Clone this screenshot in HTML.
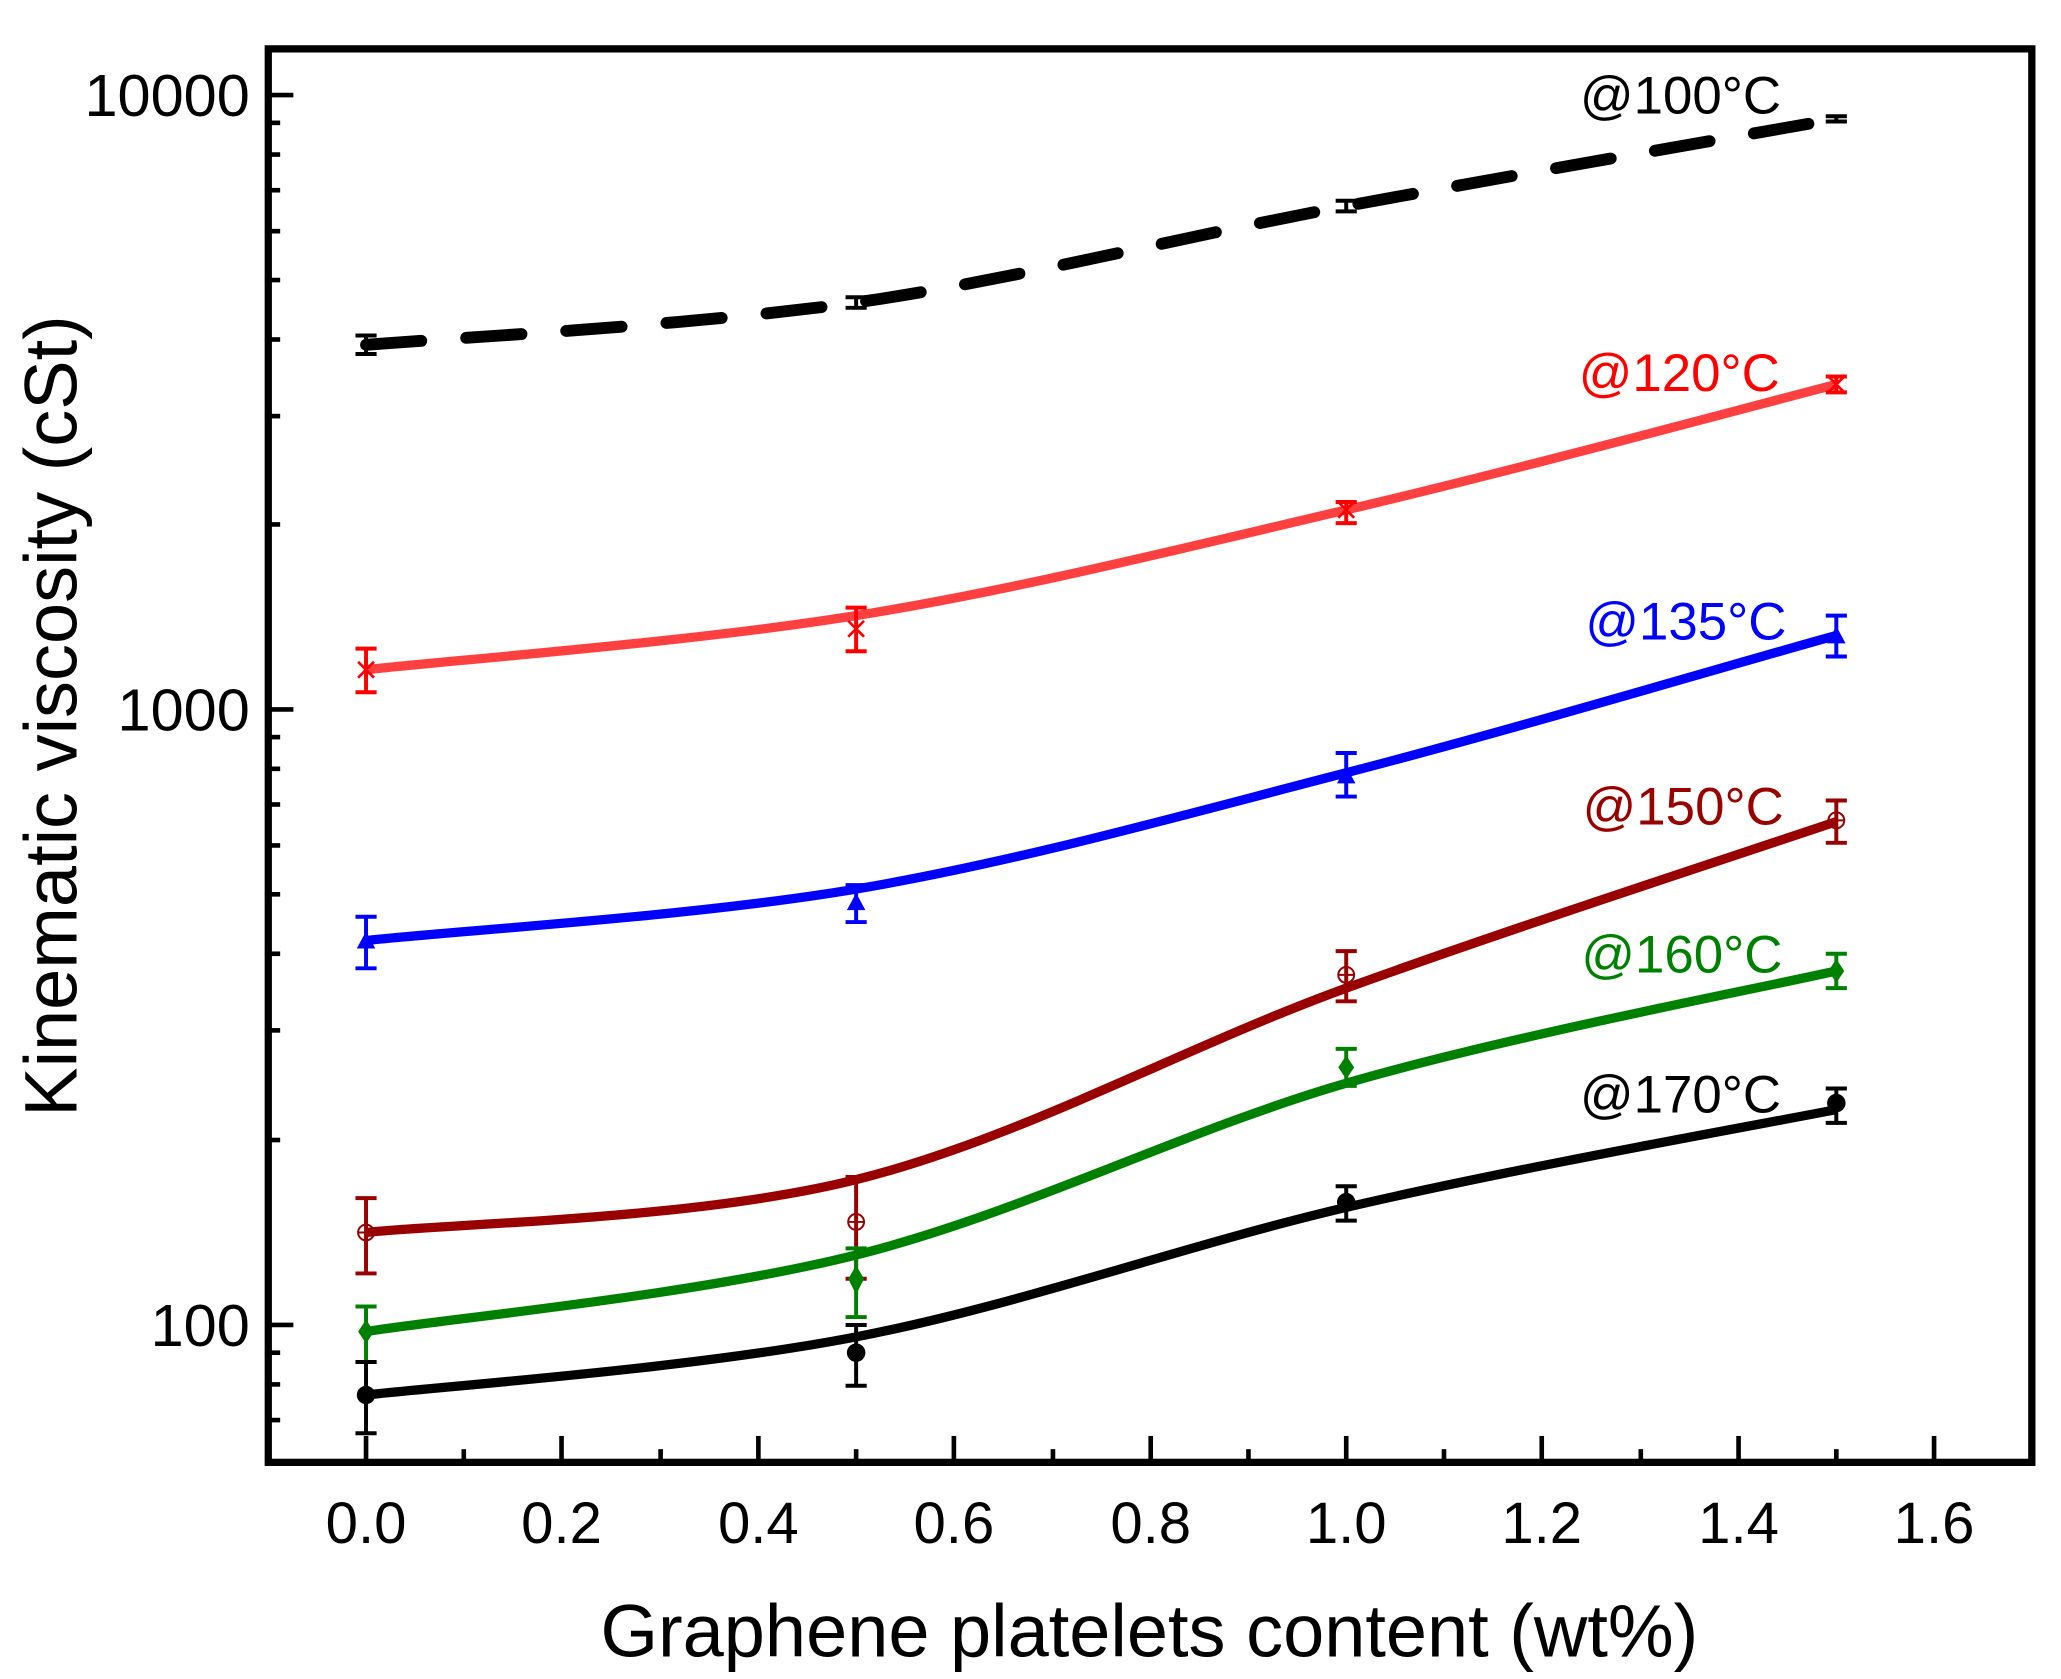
<!DOCTYPE html>
<html><head><meta charset="utf-8"><style>
html,body{margin:0;padding:0;background:#fff;}
svg{display:block;}
text{font-family:"Liberation Sans",Arial,sans-serif;}
</style></head><body>
<svg width="2061" height="1679" viewBox="0 0 1560 1271" xmlns="http://www.w3.org/2000/svg">
<rect width="1560" height="1271" fill="#fff"/>
<g stroke="#000" stroke-width="3.5" fill="none">
<line x1="203" y1="72" x2="222" y2="72"/><line x1="203" y1="537" x2="222" y2="537"/><line x1="203" y1="1003" x2="222" y2="1003"/>
<line x1="203" y1="93" x2="212" y2="93"/><line x1="203" y1="117" x2="212" y2="117"/><line x1="203" y1="144" x2="212" y2="144"/><line x1="203" y1="175" x2="212" y2="175"/><line x1="203" y1="212" x2="212" y2="212"/><line x1="203" y1="257" x2="212" y2="257"/><line x1="203" y1="315" x2="212" y2="315"/><line x1="203" y1="397" x2="212" y2="397"/>
<line x1="203" y1="558" x2="212" y2="558"/><line x1="203" y1="582" x2="212" y2="582"/><line x1="203" y1="609" x2="212" y2="609"/><line x1="203" y1="640" x2="212" y2="640"/><line x1="203" y1="677" x2="212" y2="677"/><line x1="203" y1="722" x2="212" y2="722"/><line x1="203" y1="780" x2="212" y2="780"/><line x1="203" y1="863" x2="212" y2="863"/>
<line x1="203" y1="1024" x2="212" y2="1024"/><line x1="203" y1="1048" x2="212" y2="1048"/><line x1="203" y1="1075" x2="212" y2="1075"/>
<line x1="277" y1="1107" x2="277" y2="1087"/><line x1="425" y1="1107" x2="425" y2="1087"/><line x1="574" y1="1107" x2="574" y2="1087"/><line x1="722" y1="1107" x2="722" y2="1087"/><line x1="871" y1="1107" x2="871" y2="1087"/><line x1="1019" y1="1107" x2="1019" y2="1087"/><line x1="1167" y1="1107" x2="1167" y2="1087"/><line x1="1316" y1="1107" x2="1316" y2="1087"/><line x1="1464" y1="1107" x2="1464" y2="1087"/>
<line x1="351" y1="1107" x2="351" y2="1097"/><line x1="500" y1="1107" x2="500" y2="1097"/><line x1="648" y1="1107" x2="648" y2="1097"/><line x1="797" y1="1107" x2="797" y2="1097"/><line x1="945" y1="1107" x2="945" y2="1097"/><line x1="1093" y1="1107" x2="1093" y2="1097"/><line x1="1242" y1="1107" x2="1242" y2="1097"/><line x1="1390" y1="1107" x2="1390" y2="1097"/>
</g>
<rect x="203" y="37" width="1335" height="1070" fill="none" stroke="#000" stroke-width="5.5"/>
<g font-size="45" fill="#000" text-anchor="end">
<text x="189" y="88">10000</text><text x="189" y="553">1000</text><text x="189" y="1019">100</text>
</g>
<g font-size="44" fill="#000" text-anchor="middle">
<text x="277" y="1168">0.0</text><text x="425" y="1168">0.2</text><text x="574" y="1168">0.4</text><text x="722" y="1168">0.6</text><text x="871" y="1168">0.8</text><text x="1019" y="1168">1.0</text><text x="1167" y="1168">1.2</text><text x="1316" y="1168">1.4</text><text x="1464" y="1168">1.6</text>
</g>
<text x="870" y="1254" font-size="56" text-anchor="middle">Graphene platelets content (wt%)</text>
<text transform="translate(58,542) rotate(-90)" font-size="56" text-anchor="middle">Kinematic viscosity (cSt)</text>
<g fill="none" stroke-width="7">
<path d="M277,261 C339,256 524,246.5 648,229 C772,211 895,179 1019,156 C1143,133 1328,101 1390,90" stroke="#000" stroke-width="9" stroke-dasharray="42,34" stroke-linecap="round"/>
<path d="M277,507 C339,500 524,486 648,466 C772,446 895,415 1019,386 C1143,357 1328,307 1390,291" stroke="#ff4040"/>
<path d="M277,712 C339,705 524,694 648,673 C772,652 895,617 1019,585 C1143,553 1328,498 1390,481" stroke="#0000ff"/>
<path d="M277,933 C339,926 524,924 648,893 C772,862 895,793 1019,748 C1143,703 1328,643 1390,622" stroke="#990000"/>
<path d="M277,1008 C339,998 524,981 648,950 C772,919 895,856 1019,820 C1143,784 1328,749 1390,735" stroke="#008000"/>
<path d="M277,1056 C339,1049 524,1036 648,1012 C772,988 895,943 1019,914 C1143,885 1328,852 1390,840" stroke="#000"/>
</g>
<g stroke-width="3" fill="none">
<g stroke="#000"><path d="M277,254V268M269,254H285M269,268H285M648,225V233M640,225H656M640,233H656M1019,152V160M1011,152H1027M1011,160H1027M1390,88V92M1382,88H1398M1382,92H1398"/></g>
<g stroke="#ff0000"><path d="M277,491V524M269,491H285M269,524H285M648,460V493M640,460H656M640,493H656M1019,380V396M1011,380H1027M1011,396H1027M1390,285V297M1382,285H1398M1382,297H1398"/></g>
<g stroke="#0000ff"><path d="M277,694V733M269,694H285M269,733H285M648,670V698M640,670H656M640,698H656M1019,570V603M1011,570H1027M1011,603H1027M1390,466V497M1382,466H1398M1382,497H1398"/></g>
<g stroke="#990000"><path d="M277,907V964M269,907H285M269,964H285M648,891V968M640,891H656M640,968H656M1019,720V758M1011,720H1027M1011,758H1027M1390,606V638M1382,606H1398M1382,638H1398"/></g>
<g stroke="#008000"><path d="M277,989V1031M269,989H285M269,1031H285M648,945V997M640,945H656M640,997H656M1019,794V822M1011,794H1027M1011,822H1027M1390,722V748M1382,722H1398M1382,748H1398"/></g>
<g stroke="#000"><path d="M277,1031V1085M269,1031H285M269,1085H285M648,1003V1049M640,1003H656M640,1049H656M1019,898V924M1011,898H1027M1011,924H1027M1390,824V850M1382,824H1398M1382,850H1398"/></g>
</g>
<g stroke="#ff0000" stroke-width="2"><path d="M271,501L283,513M283,501L271,513M277,500V514M642,470L654,482M654,470L642,482M648,469V483M1013,380L1025,392M1025,380L1013,392M1384,285L1396,297M1396,285L1384,297"/></g>
<g fill="#0000ff"><path d="M277,705L284,718H270Z M648,676L655,689H641Z M1019,580L1026,593H1012Z M1390,474L1397,487H1383Z"/></g>
<g fill="none" stroke="#990000" stroke-width="1.5"><circle cx="277" cy="933" r="6"/><circle cx="648" cy="925" r="6"/><circle cx="1019" cy="738" r="6"/><circle cx="1390" cy="621" r="6"/><path d="M271,933H283M277,927V939M642,925H654M648,919V931M1013,738H1025M1019,732V744M1384,621H1396M1390,615V627"/></g>
<g fill="#008000"><path d="M277,999L283,1008L277,1017L271,1008Z M648,958L654,968L648,980L642,968Z M1019,799L1025,808L1019,817L1013,808Z M1390,726L1396,735L1390,744L1384,735Z"/></g>
<g fill="#000"><circle cx="277" cy="1056" r="7"/><circle cx="648" cy="1024" r="7"/><circle cx="1019" cy="910" r="7"/><circle cx="1390" cy="835" r="7"/></g>
<g font-size="40">
<text x="1196" y="86" fill="#000">@100°C</text>
<text x="1195" y="296" fill="#ff0000">@120°C</text>
<text x="1200" y="484" fill="#0000ff">@135°C</text>
<text x="1198" y="624" fill="#990000">@150°C</text>
<text x="1197" y="736" fill="#008000">@160°C</text>
<text x="1196" y="842" fill="#000">@170°C</text>
</g>
</svg>
</body></html>
